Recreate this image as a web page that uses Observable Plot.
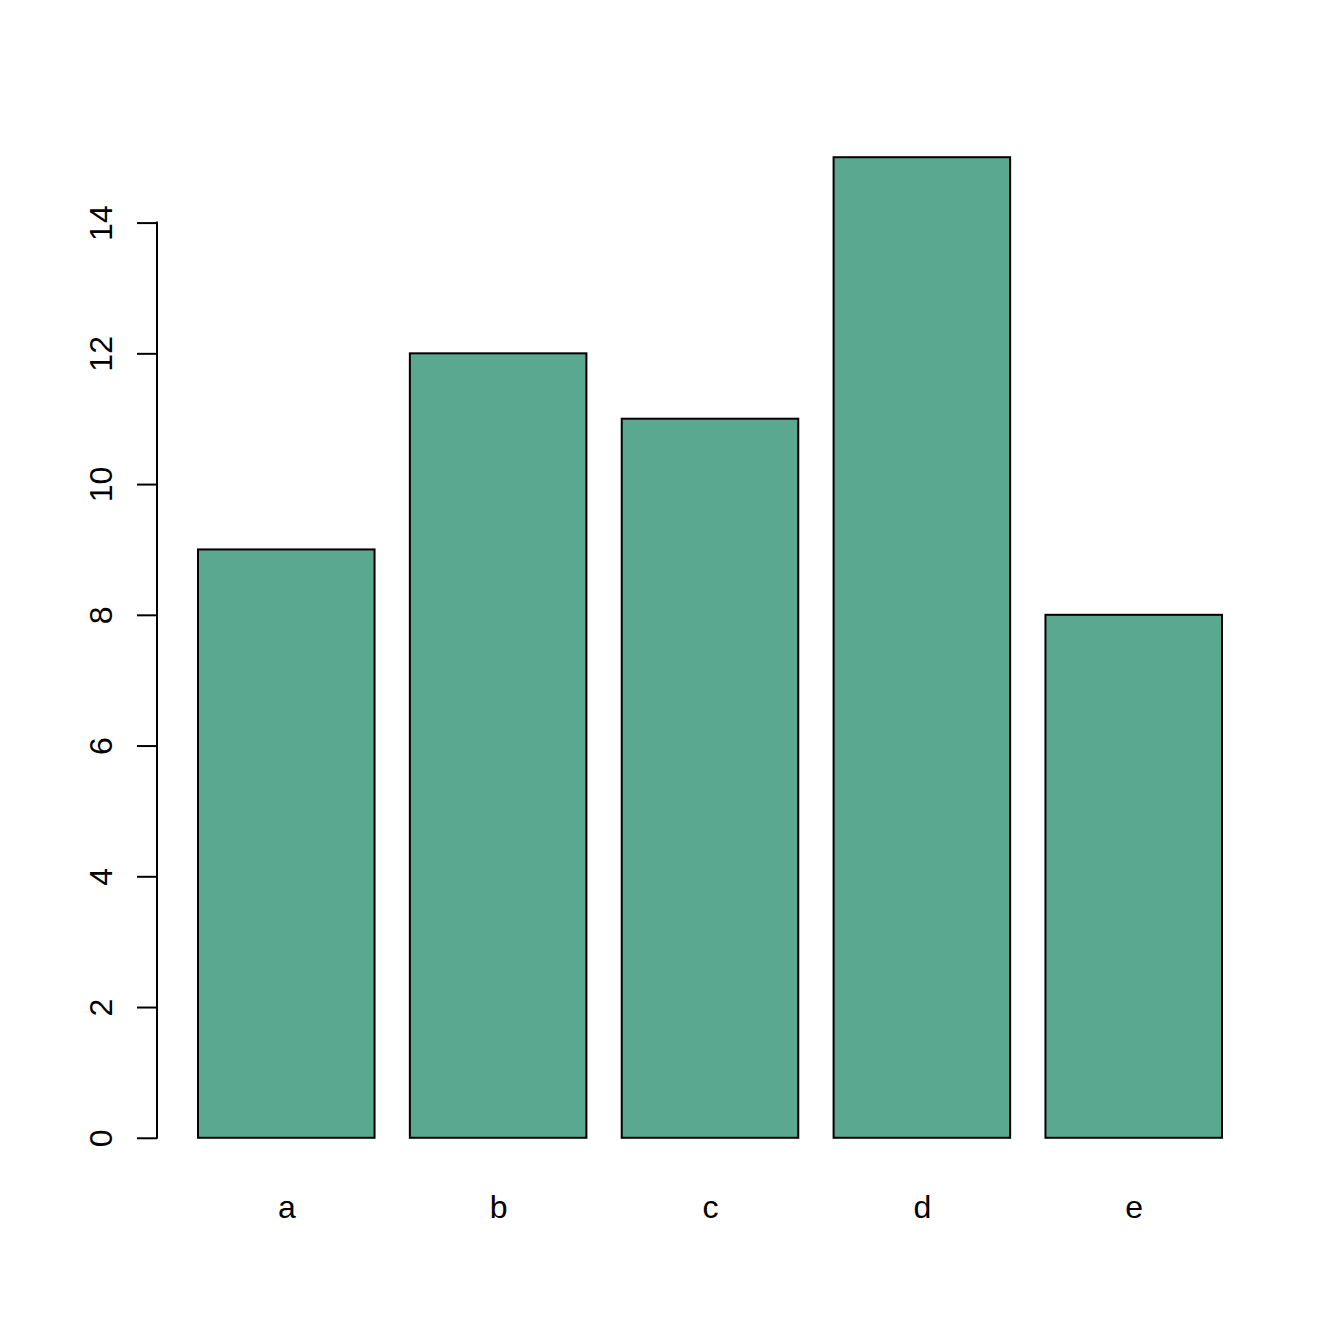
<!DOCTYPE html>
<html>
<head>
<meta charset="utf-8">
<script src="https://cdn.jsdelivr.net/npm/d3@7"></script>
<script src="https://cdn.jsdelivr.net/npm/@observablehq/plot@0.6"></script>
<style>
  html, body { margin: 0; padding: 0; background: #fff; }
  svg { font-family: "Liberation Sans", Arial, Helvetica, sans-serif; }
</style>
</head>
<body>
<div id="chart"></div>
<script>
const categories = ["a", "b", "c", "d", "e"];
const values = [9, 12, 11, 15, 8];
const yTicks = [0, 2, 4, 6, 8, 10, 12, 14];

const data = categories.map((c, i) => ({cat: c, val: values[i]}));

const plot = Plot.plot({
  width: 1344,
  height: 1344,
  marginLeft: 157,
  marginRight: 81,
  marginTop: 118,
  marginBottom: 167,
  style: {fontSize: "32px", fontFamily: "'Liberation Sans', Arial, Helvetica, sans-serif", background: "#fff", color: "#000"},
  x: {type: "band", domain: categories, range: [198, 1222], paddingInner: 0.1667, paddingOuter: 0, round: false, axis: null, label: null},
  y: {domain: [-0.6, 15.6], axis: null, label: null},
  marks: [
    Plot.barY(data, {x: "cat", y: "val", fill: "#5aa890", stroke: "#000", strokeWidth: 2}),
    Plot.axisY({ticks: yTicks, tickSize: 20, strokeWidth: 2, text: null, label: null}),
    Plot.text(yTicks, {y: d => d, text: d => String(d), frameAnchor: "left", rotate: -90, dx: -56, textAnchor: "middle", lineAnchor: "middle", fontSize: 32, fill: "#000"}),
    Plot.axisX({tickSize: 0, tickPadding: 18, fontSize: 32, anchor: "bottom", label: null})
  ]
});

// y axis line from first to last tick, as R draws it
const ys = plot.scale("y");
d3.select(plot).append("line")
  .attr("x1", 157).attr("x2", 157)
  .attr("y1", ys.apply(yTicks[0])).attr("y2", ys.apply(yTicks[yTicks.length - 1]))
  .attr("stroke", "#000").attr("stroke-width", 2).attr("stroke-linecap", "square");

document.getElementById("chart").appendChild(plot);
</script>
</body>
</html>
